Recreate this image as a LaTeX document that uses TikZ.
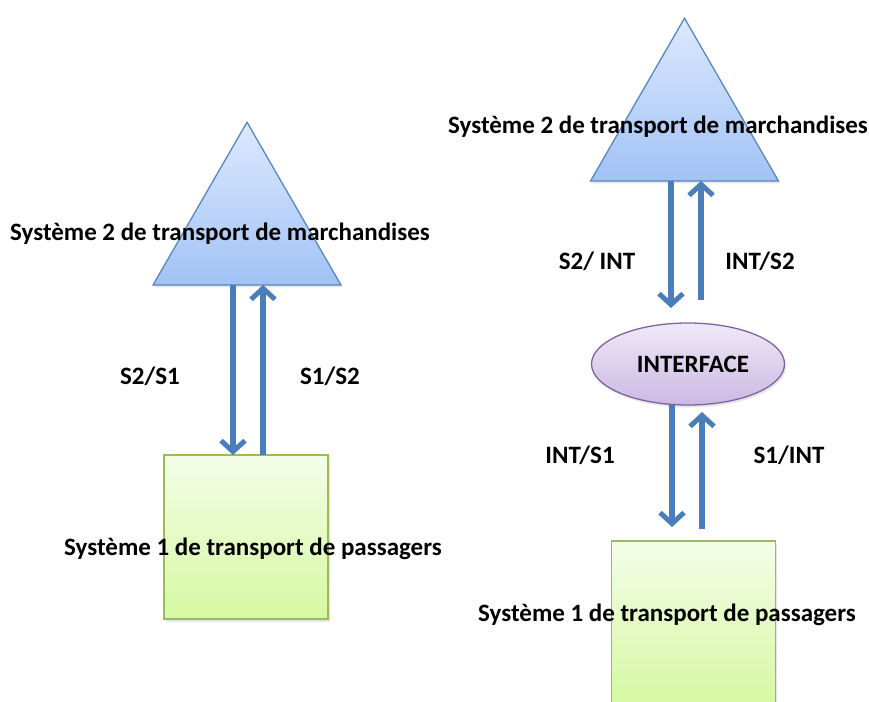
\documentclass[tikz,border=0pt]{standalone}
\usepackage{fontspec}
\setmainfont{Carlito}
\usetikzlibrary{shapes.geometric, arrows.meta, shadows}

\definecolor{flowblue}{HTML}{4A7EBB}
\definecolor{triedge}{HTML}{5A86C0}
\definecolor{tritop}{HTML}{DDE9FF}
\definecolor{tribot}{HTML}{A1C2F5}
\definecolor{boxedge}{HTML}{9BBB59}
\definecolor{boxtop}{HTML}{F4FDE8}
\definecolor{boxbot}{HTML}{D6F8A2}
\definecolor{ifedge}{HTML}{8064A2}
\definecolor{iftop}{HTML}{EFE9F7}
\definecolor{ifbot}{HTML}{CBB9E3}

\tikzset{
  softshadow/.style={drop shadow={opacity=0.2, shadow xshift=1.5pt, shadow yshift=-2.5pt}},
  systri/.style={regular polygon, regular polygon sides=3, minimum size=217pt,
    inner sep=0pt, outer sep=0pt, draw=triedge, line width=1.3pt,
    top color=tritop, bottom color=tribot, softshadow},
  sysbox/.style={rectangle, minimum width=164pt, minimum height=164pt,
    inner sep=0pt, outer sep=0pt, draw=boxedge, line width=1.3pt,
    top color=boxtop, bottom color=boxbot, softshadow},
  iface/.style={ellipse, minimum width=193pt, minimum height=82pt,
    inner sep=0pt, outer sep=0pt, draw=ifedge, line width=1.3pt,
    top color=iftop, bottom color=ifbot, softshadow},
  flow/.style={draw=flowblue, line width=5.5pt,
    -{Straight Barb[length=11pt, width=24pt, line width=5pt]}},
  lbl/.style={font=\bfseries\fontsize{25}{28}\selectfont, inner sep=0pt}
}

\begin{document}
\begin{tikzpicture}[x=1pt, y=-1pt]
\useasboundingbox (0,0) rectangle (869,701);

% left : direct link
\node[systri] (tri1) at (247,230.7) {};
\node[sysbox] (box1) at (246,537) {};
\node[lbl] (tri1lbl) at (220,234) {Système 2 de transport de marchandises};
\node[lbl] (box1lbl) at (253,549) {Système 1 de transport de passagers};
\draw[flow] ([xshift=-14pt]tri1.south) -- ([xshift=-13pt]box1.north);
\draw[flow] ([xshift=17pt]box1.north) -- ([xshift=16pt]tri1.south);
\node[lbl] (d21) at (150,376) {S2/S1};
\node[lbl] (d12) at (330,376) {S1/S2};

% right : link through the interface
\node[systri] (tri2) at (684.5,126.7) {};
\node[iface] (ifc) at (688,364) {};
\node[lbl] at (693,364) {INTERFACE};
\node[sysbox] (box2) at (693.5,623) {};
\node[lbl] (tri2lbl) at (658,127) {Système 2 de transport de marchandises};
\node[lbl] (box2lbl) at (667,615) {Système 1 de transport de passagers};
\draw[flow, shorten >=15pt] ([xshift=-13.5pt]tri2.south) -- ([xshift=-17pt]ifc.north);
\draw[flow, shorten <=23pt] ([xshift=13pt]ifc.north) -- ([xshift=16.5pt]tri2.south);
\draw[flow, shorten >=14pt] ([xshift=-16pt]ifc.south) -- ([xshift=-21.5pt]box2.north);
\draw[flow, shorten <=12pt, shorten >=7pt] ([xshift=8.5pt]box2.north) -- ([xshift=14pt]ifc.south);
\node[lbl] (s2i) at (597,261) {S2/ INT};
\node[lbl] (is2) at (760,261) {INT/S2};
\node[lbl] (is1) at (580,455) {INT/S1};
\node[lbl] (s1i) at (789,455) {S1/INT};
\end{tikzpicture}
\end{document}
